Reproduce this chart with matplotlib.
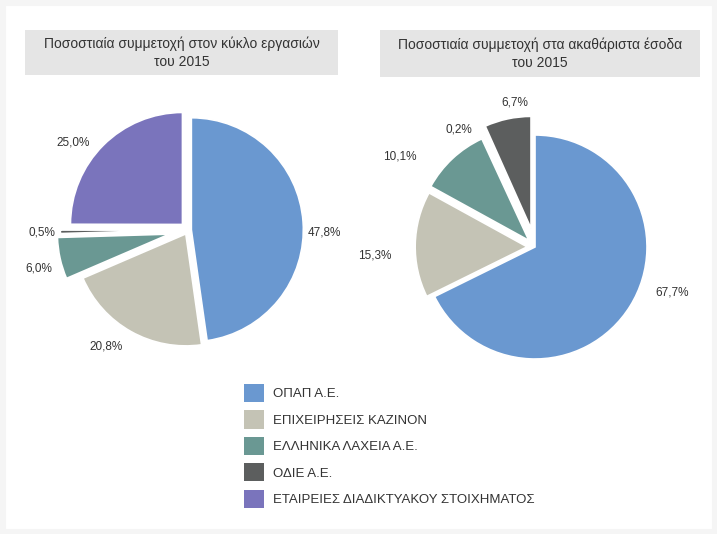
import numpy as np
import matplotlib
matplotlib.use("Agg")
import matplotlib.pyplot as plt
from matplotlib.patches import Rectangle, Patch

plt.rcParams['font.family'] = ['Liberation Sans', 'DejaVu Sans']

# ---- data ----
categories = ["ΟΠΑΠ Α.Ε.", "ΕΠΙΧΕΙΡΗΣΕΙΣ ΚΑΖΙΝΟΝ", "ΕΛΛΗΝΙΚΑ ΛΑΧΕΙΑ Α.Ε.",
              "ΟΔΙΕ Α.Ε.", "ΕΤΑΙΡΕΙΕΣ ΔΙΑΔΙΚΤΥΑΚΟΥ ΣΤΟΙΧΗΜΑΤΟΣ"]
turnover_share = [47.8, 20.8, 6.0, 0.5, 25.0]
gross_revenue_share = [67.7, 15.3, 10.1, 0.2, 6.7]
title_left = "Ποσοστιαία συμμετοχή στον κύκλο εργασιών\nτου 2015"
title_right = "Ποσοστιαία συμμετοχή στα ακαθάριστα έσοδα\nτου 2015"

colors_left = ["#6a98d0", "#c4c3b5", "#6a9893", "#5c5e5e", "#7a74bc"]
colors_right = ["#6a98d0", "#c4c3b5", "#6a9893", "#5c5e5e", "#5c5e5e"]

W, H = 717, 534
fig = plt.figure(figsize=(W / 100, H / 100), dpi=100)
fig.patch.set_facecolor("white")

# faint frame
fig.patches.append(Rectangle((0, 0), 1, 1, transform=fig.transFigure,
                             facecolor="none", edgecolor="#f5f5f5", lw=8, zorder=0))

R = 112  # pixel radius
SPAN = 1.5


def pie_axes(cx, cy):
    w = 2 * SPAN * R / W
    h = 2 * SPAN * R / H
    ax = fig.add_axes([cx / W - w / 2, 1 - cy / H - h / 2, w, h])
    return ax


def draw_pie(ax, vals, cols, explode, dists, dangs):
    wedges, _ = ax.pie(vals, colors=cols, startangle=90, counterclock=False,
                       explode=explode, radius=1.0,
                       wedgeprops=dict(edgecolor="white", linewidth=1.2))
    ax.set_xlim(-SPAN, SPAN)
    ax.set_ylim(-SPAN, SPAN)
    ax.set_aspect("equal")
    ax.axis("off")
    for wdg, v, d, da in zip(wedges, vals, dists, dangs):
        ang = np.deg2rad((wdg.theta1 + wdg.theta2) / 2 + da)
        ax.text(d * np.cos(ang), d * np.sin(ang), f"{v:.1f}%".replace(".", ","),
                ha="center", va="center", fontsize=8.5, color="#333333", clip_on=False)
    return wedges


ax1 = pie_axes(188, 230)
draw_pie(ax1, turnover_share, colors_left,
         [0.03, 0.04, 0.17, 0.14, 0.07],
         [1.22, 1.27, 1.38, 1.30, 1.29],
         [-5, -6, 2, 0, 8])

ax2 = pie_axes(535, 247)
draw_pie(ax2, gross_revenue_share, colors_right,
         [0.0, 0.07, 0.08, 0.16, 0.17],
         [1.29, 1.43, 1.45, 1.25, 1.30],
         [13.7, 4.3, 13.3, 8.3, -4.1])

# title boxes
for (x0, x1, y0, y1, txt) in [(25, 338, 30, 75, title_left), (380, 700, 30, 77, title_right)]:
    fig.patches.append(Rectangle((x0 / W, 1 - y1 / H), (x1 - x0) / W, (y1 - y0) / H,
                                 transform=fig.transFigure, facecolor="#e5e5e5",
                                 edgecolor="none", zorder=1))
    fig.text((x0 + x1) / 2 / W, 1 - (y0 + y1) / 2 / H, txt, ha="center", va="center",
             fontsize=10, color="#333333", linespacing=1.35, zorder=2)

# legend
handles = [Patch(facecolor=c, edgecolor="none") for c in colors_left]
fig.legend(handles, categories, loc="upper left", bbox_to_anchor=(232 / W, 1 - 372 / H),
           frameon=False, fontsize=9.5, handlelength=1.55, handleheight=1.75,
           labelspacing=0.62, handletextpad=0.65, labelcolor="#333333")

fig.savefig("out.png", dpi=100, facecolor="white")
